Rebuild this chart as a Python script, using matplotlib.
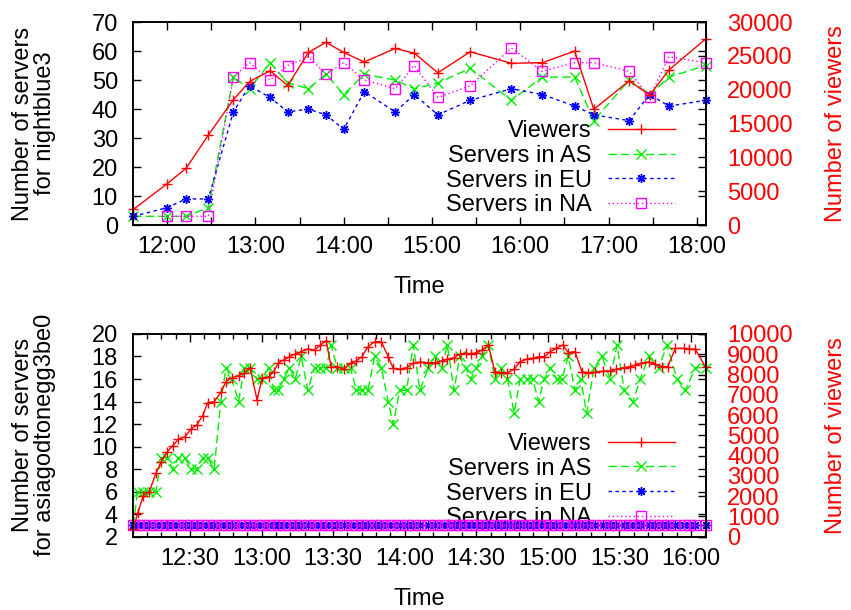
import matplotlib
matplotlib.use("Agg")
import matplotlib.pyplot as plt
from matplotlib.ticker import FuncFormatter, MultipleLocator
import numpy as np

plt.rcParams["font.family"] = ["Liberation Sans", "DejaVu Sans"]
plt.rcParams["font.size"] = 17

# nightblue3: sample times in minutes after 12:00
top_minutes = [-23, 0, 13, 28, 45, 56, 70, 82, 96, 108, 120, 134,
               155, 168, 184, 206, 234, 255, 277, 290, 314, 328, 341, 366]
top_viewers = [2300, 6100, 8400, 13300, 18500, 21200, 22800, 20600, 25500, 27000, 25500, 24100,
               26100, 25400, 22500, 25600, 23900, 24000, 25700, 17100, 21300, 19200, 22900, 27500]
top_as = [3, 3, 3, 6, 51, 47, 56, 49, 47, 52, 45, 52,
          50, 47, 49, 54, 43, 51, 51, 36, 50, 45, 51, 55]
top_eu = [3, 6, 9, 9, 39, 48, 44, 39, 40, 38, 33, 46,
          39, 45, 38, 43, 47, 45, 41, 38, 36, 45, 41, 43]
top_na = [np.nan, 3, 3, 3, 51, 56, 50, 55, 58, 52, 56, 50,
          47, 55, 44, 48, 61, 53, 56, 56, 53, 44, 58, 56]

# asiagodtonegg3be0
bottom_minutes = [6.2, 8.0, 10.4, 12.9, 15.7, 17.8, 20.5, 22.7, 25.1, 27.9,
                  30.4, 32.8, 35.3, 37.4, 40.1, 42.9, 45.1, 47.5, 50.4, 52.7,
                  55.2, 58.1, 60.2, 63.0, 65.1, 67.0, 69.3, 71.7, 74.1, 76.6,
                  79.4, 82.2, 84.7, 87.1, 89.2, 91.7, 94.5, 97.3, 99.7, 102.1,
                  104.6, 107.4, 110.2, 113.1, 115.2, 117.9, 120.8, 123.6, 126.4, 129.9,
                  132.7, 135.5, 137.9, 140.7, 143.1, 145.6, 147.7, 150.1, 152.6, 155.1,
                  157.8, 160.3, 163.1, 165.9, 168.4, 171.1, 173.6, 176.2, 178.5, 181.1,
                  183.5, 186.3, 188.6, 191.4, 194.3, 197.0, 199.9, 203.1, 206.2, 208.7,
                  211.8, 214.6, 216.7, 219.2, 222.3, 225.1, 227.9, 230.3, 233.5, 237.0,
                  239.4, 241.9, 246.2]
bottom_viewers = [370, 1150, 2020, 2220, 3130, 3670, 4190, 4490, 4800, 4930,
                  5300, 5510, 5970, 6610, 6660, 7120, 7650, 7840, 7940, 8060,
                  8340, 6740, 7820, 7890, 8140, 8580, 8720, 8880, 9010, 9130,
                  9260, 9210, 9460, 9660, 8360, 8390, 8260, 8550, 8670, 8880,
                  9370, 9620, 9620, 8880, 8310, 8260, 8340, 8550, 8620, 8580,
                  8580, 8670, 8750, 8830, 9000, 9050, 9000, 9080, 9210, 9460,
                  8140, 8090, 8090, 8260, 8630, 8750, 8800, 8880, 8880, 9130,
                  9290, 9460, 9080, 9130, 8140, 8090, 8110, 8170, 8170, 8260,
                  8340, 8390, 8470, 8550, 8630, 8500, 8390, 8390, 9290, 9290,
                  9270, 9240, 8360]
bottom_as_minutes = [6.2, 8.0, 10.4, 12.9, 15.7, 17.8, 20.5, 22.7, 25.1, 27.9,
                     30.4, 32.8, 35.3, 37.4, 40.1, 42.9, 45.1, 47.5, 50.4, 52.7,
                     55.2, 58.1, 60.2, 63.0, 65.1, 67.0, 69.3, 71.7, 74.1, 76.6,
                     79.4, 82.2, 84.7, 87.1, 89.2, 91.7, 94.5, 97.3, 99.7, 102.1,
                     104.6, 107.4, 110.2, 113.1, 115.2, 117.9, 120.8, 123.6, 126.4, 129.9,
                     132.7, 135.5, 137.9, 140.7, 143.1, 145.6, 147.7, 150.1, 152.6, 155.1,
                     157.8, 160.3, 163.1, 165.9, 168.4, 171.1, 173.6, 176.2, 178.5, 181.1,
                     183.8, 185.9, 188.6, 191.4, 193.8, 196.3, 199.4, 202.7, 206.2, 209.0,
                     212.1, 215.7, 218.8, 222.3, 226.5, 230.0, 234.2, 237.7, 241.9, 246.2]
bottom_as = [3, 6, 6, 6, 6, 9, 9, 8, 9, 9,
             8, 8, 9, 9, 8, 14, 17, 16, 14, 17,
             17, 16, 16, 17, 15, 15, 16, 17, 16, 18,
             15, 17, 17, 17, 19, 17, 17, 17, 15, 15,
             15, 18, 17, 14, 12, 15, 15, 19, 15, 17,
             18, 17, 19, 15, 18, 17, 16, 17, 18, 19,
             16, 17, 16, 13, 16, 16, 16, 14, 16, 17,
             16, 16, 18, 15, 16, 13, 17, 18, 16, 19,
             15, 14, 16, 18, 17, 19, 16, 15, 17, 17]
bottom_eu = [3, 3, 3, 3, 3, 3, 3, 3, 3, 3, 3, 3, 3, 3, 3, 3, 3, 3, 3, 3, 3, 3, 3, 3,
             3, 3, 3, 3, 3, 3, 3, 3, 3, 3, 3, 3, 3, 3, 3, 3, 3, 3, 3, 3, 3, 3, 3, 3,
             3, 3, 3, 3, 3, 3, 3, 3, 3, 3, 3, 3, 3, 3, 3, 3, 3, 3, 3, 3, 3, 3, 3, 3,
             3, 3, 3, 3, 3, 3, 3, 3, 3, 3, 3, 3, 3, 3, 3, 3, 3, 3, 3, 3, 3]
bottom_na = [3, 3, 3, 3, 3, 3, 3, 3, 3, 3, 3, 3, 3, 3, 3, 3, 3, 3, 3, 3, 3, 3, 3, 3,
             3, 3, 3, 3, 3, 3, 3, 3, 3, 3, 3, 3, 3, 3, 3, 3, 3, 3, 3, 3, 3, 3, 3, 3,
             3, 3, 3, 3, 3, 3, 3, 3, 3, 3, 3, 3, 3, 3, 3, 3, 3, 3, 3, 3, 3, 3, 3, 3,
             3, 3, 3, 3, 3, 3, 3, 3, 3, 3, 3, 3, 3, 3, 3, 3, 3, 3, 3, 3, 3]

LABELS = ["Viewers", "Servers in AS", "Servers in EU", "Servers in NA"]
STYLES = [
    dict(color="#ff0000", ls="-", marker="+"),
    dict(color="#00ee00", ls=(0, (6, 3)), marker="x"),
    dict(color="#0000ff", ls=(0, (2.5, 2.5)), marker=(8, 2, 0)),
    dict(color="#ff00ff", ls=(0, (1, 2)), marker="s", mfc="none"),
]


def clock(m, _pos=None):
    m = int(round(m))
    return f"{12 + m // 60}:{m % 60:02d}"


def draw_panel(ax, series, ylim, y2lim, y2step, major, minor, minor_len, ylabel, legend_y):
    ax2 = ax.twinx()
    handles = []
    for (x, y), style, label in zip(series, STYLES, LABELS):
        target = ax2 if label == "Viewers" else ax
        (line,) = target.plot(x, y, lw=1.0, ms=6.5, mew=1.0, clip_on=False, label=label, **style)
        handles.append(line)

    ax.set_xlim(series[0][0][0], series[0][0][-1])
    ax.set_ylim(*ylim)
    ax2.set_ylim(*y2lim)
    ax2.yaxis.set_major_locator(MultipleLocator(y2step))
    ax.xaxis.set_major_locator(MultipleLocator(major))
    ax.xaxis.set_minor_locator(MultipleLocator(minor))
    ax.xaxis.set_major_formatter(FuncFormatter(clock))

    ax.tick_params(which="both", direction="in", top=True, right=True, left=True, width=1)
    ax.tick_params(which="major", length=6)
    ax.tick_params(which="minor", length=minor_len)
    ax.tick_params(axis="y", pad=11)
    ax.tick_params(axis="x", pad=8)
    ax2.tick_params(axis="y", direction="in", length=6, width=1, pad=15.5, labelcolor="red")
    for a in (ax, ax2):
        for spine in a.spines.values():
            spine.set_linewidth(1.2)

    ax.set_ylabel(ylabel, linespacing=1.0)
    ax.yaxis.set_label_coords(-0.1735, 0.5)
    ax.yaxis.label.set_va("center")
    ax2.set_ylabel("Number of viewers", color="red")
    ax2.yaxis.set_label_coords(1.2276, 0.5)
    ax2.yaxis.label.set_va("center")
    ax.set_xlabel("Time")
    ax.xaxis.set_label_coords(0.5, -0.305)
    ax.xaxis.label.set_va("center")

    leg = ax.legend(handles, LABELS, loc="center right", bbox_to_anchor=(0.9464, legend_y),
                    frameon=False, markerfirst=False, numpoints=1, handlelength=2.84,
                    handletextpad=0.68, labelspacing=0.12, borderpad=0, borderaxespad=0)
    leg.set_zorder(1)
    return ax2


fig = plt.figure(figsize=(8.51, 6.10), dpi=100)
ax_top = fig.add_axes([0.1566, 0.6311, 0.6726, 0.3328])
ax_bot = fig.add_axes([0.1566, 0.1202, 0.6726, 0.3323])

draw_panel(ax_top,
           [(top_minutes, top_viewers), (top_minutes, top_as),
            (top_minutes, top_eu), (top_minutes, top_na)],
           (0, 70), (0, 30000), 5000, 60, 30, 6,
           "Number of servers\nfor nightblue3", 0.280)

draw_panel(ax_bot,
           [(bottom_minutes, bottom_viewers), (bottom_as_minutes, bottom_as),
            (bottom_minutes, bottom_eu), (bottom_minutes, bottom_na)],
           (2, 20), (0, 10000), 1000, 30, 6, 3.5,
           "Number of servers\nfor asiagodtonegg3be0", 0.274)
ax_top.yaxis.set_major_locator(MultipleLocator(10))
ax_bot.yaxis.set_major_locator(MultipleLocator(2))

fig.savefig("out.png", dpi=100)
